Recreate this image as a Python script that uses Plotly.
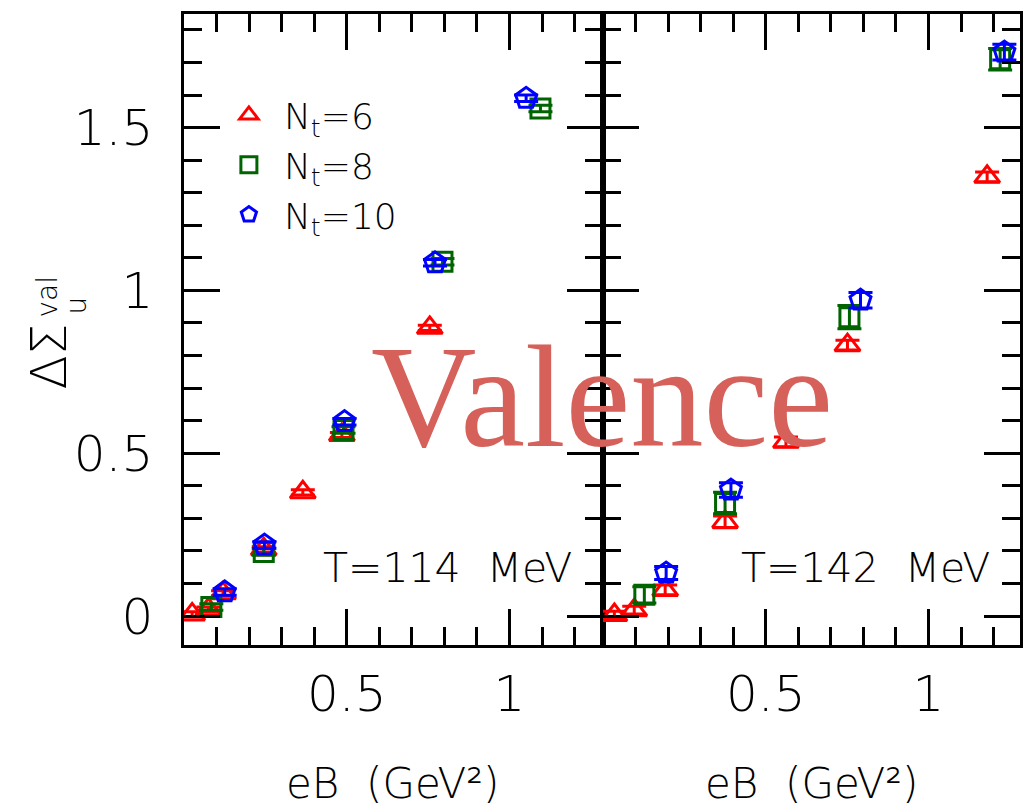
import plotly.graph_objects as go

# ---------------- data ----------------
# T = 114 MeV panel
nt6_x_114 = [0.025, 0.075, 0.12, 0.245, 0.365, 0.485, 0.755]
nt6_y_114 = [0.005, 0.020, 0.070, 0.205, 0.380, 0.556, 0.885]
nt6_e_114 = [0.008, 0.008, 0.008, 0.008, 0.008, 0.008, 0.008]

nt8_x_114 = [0.084, 0.245, 0.490, 0.794, 1.095]
nt8_y_114 = [0.028, 0.197, 0.571, 1.088, 1.559]
nt8_e_114 = [0.010, 0.010, 0.010, 0.010, 0.010]

nt10_x_114 = [0.125, 0.247, 0.493, 0.771, 1.051]
nt10_y_114 = [0.074, 0.218, 0.597, 1.085, 1.590]
nt10_e_114 = [0.010, 0.010, 0.010, 0.010, 0.010]

# T = 142 MeV panel
nt6_x_142 = [0.035, 0.096, 0.191, 0.375, 0.562, 0.751, 1.180]
nt6_y_142 = [0.003, 0.018, 0.080, 0.289, 0.535, 0.832, 1.349]
nt6_e_142 = [0.012, 0.012, 0.015, 0.018, 0.015, 0.015, 0.015]

nt8_x_142 = [0.127, 0.375, 0.757, 1.220]
nt8_y_142 = [0.065, 0.347, 0.918, 1.710]
nt8_e_142 = [0.025, 0.033, 0.036, 0.033]

nt10_x_142 = [0.194, 0.393, 0.791, 1.233]
nt10_y_142 = [0.132, 0.387, 0.970, 1.732]
nt10_e_142 = [0.020, 0.022, 0.024, 0.024]

series_names = ["N<sub>t</sub>=6", "N<sub>t</sub>=8", "N<sub>t</sub>=10"]
series_colors = ["#ff0000", "#006400", "#0000ff"]
series_symbols = ["triangle-up-open", "square-open", "pentagon-open"]
series_sizes = [22, 19, 22]

panel_labels = ["T=114\u00a0\u00a0MeV", "T=142\u00a0\u00a0MeV"]
x_tickvals = [0.5, 1]
x_ticktext = ["0.5", "1"]
y_tickvals = [0, 0.5, 1, 1.5]
y_ticktext = ["0", "0.5", "1", "1.5"]
x_title = "eB\u00a0\u00a0(GeV\u00b2)"
overlay_text = "Valence"

# ---------------- geometry ----------------
W, H = 1024, 812
L, T, PW, PH = 184, 14, 839, 631
split = 420.5 / PW
FONT = "DejaVu Sans"

def px_x(px):
    return (px - L) / PW

def px_y(py):
    return (T + PH - py) / PH

fig = go.Figure()

panels = [
    ("x", "y", [(nt6_x_114, nt6_y_114, nt6_e_114), (nt8_x_114, nt8_y_114, nt8_e_114),
                (nt10_x_114, nt10_y_114, nt10_e_114)], True),
    ("x2", "y2", [(nt6_x_142, nt6_y_142, nt6_e_142), (nt8_x_142, nt8_y_142, nt8_e_142),
                  (nt10_x_142, nt10_y_142, nt10_e_142)], False),
]

for xa, ya, data, show in panels:
    for i, (xs, ys, es) in enumerate(data):
        fig.add_trace(go.Scatter(
            x=xs, y=ys, xaxis=xa, yaxis=ya, mode="markers",
            name=series_names[i], showlegend=show, legendgroup=str(i),
            marker=dict(symbol=series_symbols[i], size=series_sizes[i],
                        color=series_colors[i], line=dict(width=3, color=series_colors[i])),
            error_y=dict(type="data", array=es, visible=True, color=series_colors[i],
                         thickness=3, width=12),
            hoverinfo="skip",
        ))

axis_common = dict(
    showline=True, linecolor="black", linewidth=2.5, mirror="allticks",
    ticks="inside", ticklen=36, tickwidth=2.5, tickcolor="black",
    showgrid=False, zeroline=False,
    tickfont=dict(family=FONT, size=50, color="black", weight=200),
    minor=dict(ticks="inside", ticklen=18, tickwidth=2.5, tickcolor="black",
               dtick=0.1, tick0=0, showgrid=False),
)

fig.update_layout(
    width=W, height=H,
    margin=dict(l=L, r=W - L - PW, t=T, b=H - T - PH, pad=0),
    paper_bgcolor="white", plot_bgcolor="white",
    xaxis=dict(domain=[0, split], range=[0, 420.5 / 326.7], tickvals=x_tickvals,
               ticktext=x_ticktext, ticklabelstandoff=3, **axis_common),
    xaxis2=dict(domain=[split, 1], range=[0, 418.5 / 326.7], tickvals=x_tickvals,
                ticktext=x_ticktext, ticklabelstandoff=3, anchor="y2", **axis_common),
    yaxis=dict(domain=[0, 1], range=[-0.089, 1.849], tickvals=y_tickvals,
               ticktext=y_ticktext, ticklabelstandoff=18, **axis_common),
    yaxis2=dict(domain=[0, 1], range=[-0.089, 1.849], tickvals=y_tickvals,
                showticklabels=False, anchor="x2", matches="y", **axis_common),
    legend=dict(x=px_x(214), y=px_y(85), xanchor="left", yanchor="top",
                bgcolor="rgba(0,0,0,0)", borderwidth=0, itemwidth=60,
                font=dict(family=FONT, size=36, color="black", weight=200),
                tracegroupgap=0, itemsizing="trace"),
    showlegend=True,
)

ann = []
# panel temperature labels
for cx, txt in [(448, panel_labels[0]), (868, panel_labels[1])]:
    ann.append(dict(x=px_x(cx), y=px_y(568), xref="paper", yref="paper", text=txt,
                    showarrow=False, xanchor="center", yanchor="middle",
                    font=dict(family=FONT, size=41, color="black", weight=200)))
# x titles
for cx in [394, 814]:
    ann.append(dict(x=px_x(cx), y=px_y(783), xref="paper", yref="paper", text=x_title,
                    showarrow=False, xanchor="center", yanchor="middle",
                    font=dict(family=FONT, size=42, color="black", weight=200)))
# y title pieces
ann.append(dict(x=px_x(49), y=px_y(356), xref="paper", yref="paper", text="\u0394\u03a3",
                showarrow=False, textangle=-90, xanchor="center", yanchor="middle",
                font=dict(family=FONT, size=50, color="black", weight=200)))
ann.append(dict(x=px_x(48), y=px_y(296), xref="paper", yref="paper", text="val",
                showarrow=False, textangle=-90, xanchor="center", yanchor="middle",
                font=dict(family=FONT, size=28, color="black", weight=200)))
ann.append(dict(x=px_x(76), y=px_y(305), xref="paper", yref="paper", text="u",
                showarrow=False, textangle=-90, xanchor="center", yanchor="middle",
                font=dict(family=FONT, size=28, color="black", weight=200)))
# overlay word
ann.append(dict(x=px_x(604), y=px_y(397), xref="paper", yref="paper", text=overlay_text,
                showarrow=False, xanchor="center", yanchor="middle",
                font=dict(family="Liberation Serif", size=146, color="#d6605a")))
fig.update_layout(annotations=ann)

fig.write_html("out.html")
